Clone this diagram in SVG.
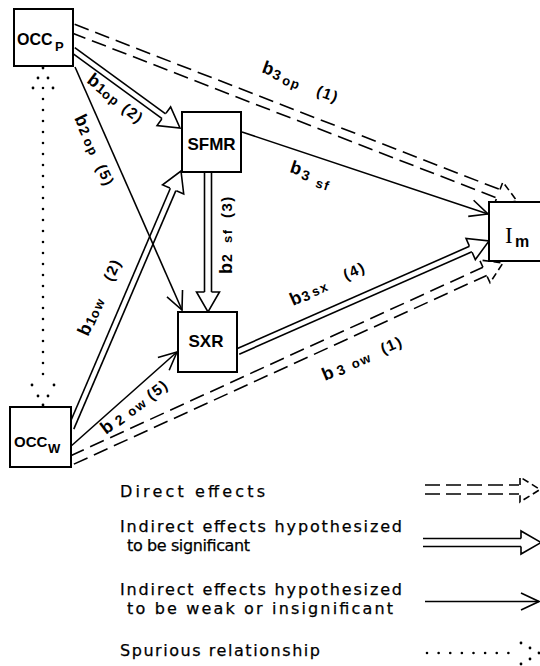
<svg xmlns="http://www.w3.org/2000/svg" width="540" height="666" viewBox="0 0 540 666">
  <style>
    .box{fill:#fff;stroke:#000;stroke-width:2}
    .bt{font-family:"Liberation Sans",Arial,sans-serif;font-weight:bold;fill:#000}
    .ln{fill:none;stroke:#000;stroke-width:1.6}
    .dash{stroke-dasharray:15 7}
    .hdash{stroke-dasharray:7 4}
    .dots{fill:none;stroke:#000;stroke-width:2.6;stroke-linecap:round}
    .lb{font-family:"Liberation Sans",Arial,sans-serif;font-weight:bold;font-size:18px;letter-spacing:1.5px;fill:#000}
    .sn{font-size:14px}
    .sb{font-size:13px}
    .pr{font-size:15px}
    .lg{font-family:"DejaVu Sans",Verdana,sans-serif;font-size:16px;fill:#000;stroke:#000;stroke-width:0.25}
  </style>
  <defs>
    <!-- hollow heads for double-line arrows -->
    <path id="hSig" d="M-20,-3.5 V-11.5 L0,0 L-20,11.5 V3.5"/>
    <path id="hDir" d="M-20,-4.5 V-12.5 L0,0 L-20,12.5 V4.5"/>
    <marker id="mWeak" markerUnits="userSpaceOnUse" markerWidth="24" markerHeight="24" viewBox="-22 -12 24 24" refX="0" refY="0" orient="auto" overflow="visible">
      <path d="M-18,-8.5 L0,0 L-18,8.5" fill="none" stroke="#000" stroke-width="1.6"/>
    </marker>
  </defs>

  <g id="connectors">
    <!-- direct effects: dashed double lines -->
    <g class="ln dash" transform="translate(517,201) rotate(21.23)">
      <line x1="-476.3" y1="-4.5" x2="-20" y2="-4.5"/>
      <line x1="-476.3" y1="4.5" x2="-20" y2="4.5"/>
      <use href="#hDir" class="hdash"/>
    </g>
    <g class="ln dash" transform="translate(503,263) rotate(-24.57)">
      <line x1="-473.9" y1="-4.5" x2="-20" y2="-4.5"/>
      <line x1="-473.9" y1="4.5" x2="-20" y2="4.5"/>
      <use href="#hDir" class="hdash"/>
    </g>
    <!-- significant indirect effects: double solid lines -->
    <g class="ln" transform="translate(180,128) rotate(36.09)">
      <line x1="-132.4" y1="-3" x2="-20" y2="-3"/>
      <line x1="-132.4" y1="3" x2="-20" y2="3"/>
      <use href="#hSig"/>
    </g>
    <g class="ln" transform="translate(181,171) rotate(-66.83)">
      <line x1="-279.5" y1="-3" x2="-20" y2="-3"/>
      <line x1="-279.5" y1="3" x2="-20" y2="3"/>
      <use href="#hSig"/>
    </g>
    <g class="ln" transform="translate(208,312) rotate(90)">
      <line x1="-140" y1="-3.5" x2="-20" y2="-3.5"/>
      <line x1="-140" y1="3.5" x2="-20" y2="3.5"/>
      <use href="#hSig"/>
    </g>
    <g class="ln" transform="translate(489,241) rotate(-23.76)">
      <line x1="-274.2" y1="-3" x2="-20" y2="-3"/>
      <line x1="-274.2" y1="3" x2="-20" y2="3"/>
      <use href="#hSig"/>
    </g>
    <!-- weak indirect effects: single lines -->
    <line class="ln" x1="75" y1="67" x2="182" y2="310" marker-end="url(#mWeak)"/>
    <line class="ln" x1="242" y1="132" x2="488" y2="214" marker-end="url(#mWeak)"/>
    <line class="ln" x1="70" y1="447" x2="177" y2="352" marker-end="url(#mWeak)"/>
    <!-- spurious relationship: dotted, both ends -->
    <g fill="#000">
      <line class="dots" x1="43" y1="88" x2="43" y2="385" stroke-dasharray="0 11"/>
      <circle cx="43" cy="68" r="1.4"/>
      <circle cx="38" cy="78" r="1.4"/><circle cx="48" cy="78" r="1.4"/>
      <circle cx="33" cy="88" r="1.4"/><circle cx="53" cy="88" r="1.4"/>
      <circle cx="43" cy="405" r="1.4"/>
      <circle cx="38" cy="396" r="1.4"/><circle cx="48" cy="396" r="1.4"/>
      <circle cx="32" cy="385" r="1.4"/><circle cx="54" cy="385" r="1.4"/>
    </g>
  </g>

  <g id="edge-labels" class="lb">
    <text transform="translate(261,72) rotate(20)"><tspan x="0" y="0">b</tspan><tspan class="sn" x="12" y="2">3</tspan><tspan class="sb" x="23" y="4">op</tspan><tspan class="pr" x="59" y="3">(1)</tspan></text>
    <text transform="translate(86,82) rotate(37)"><tspan x="0" y="0">b</tspan><tspan class="sn" x="12" y="1">1</tspan><tspan class="sb" x="20" y="2">op</tspan><tspan class="pr" x="45" y="2">(2)</tspan></text>
    <text transform="translate(74,118) rotate(64)"><tspan x="0" y="0">b</tspan><tspan class="sn" x="12" y="1">2</tspan><tspan class="sb" x="24" y="2">op</tspan><tspan class="pr" x="54" y="2">(5)</tspan></text>
    <text transform="translate(289,172) rotate(18)"><tspan x="0" y="0">b</tspan><tspan class="sn" x="13" y="3">3</tspan><tspan class="sb" x="29" y="6">sf</tspan></text>
    <text transform="translate(232,274) rotate(-90)"><tspan x="0" y="0">b</tspan><tspan class="sn" x="12" y="0">2</tspan><tspan class="sb" x="31" y="0">sf</tspan><tspan class="pr" x="56" y="0">(3)</tspan></text>
    <text transform="translate(88,337) rotate(-66)"><tspan x="0" y="0">b</tspan><tspan class="sn" x="12" y="1">1</tspan><tspan class="sb" x="20" y="1">ow</tspan><tspan class="pr" x="60" y="0">(2)</tspan></text>
    <text transform="translate(106,435) rotate(-37)"><tspan x="0" y="0">b</tspan><tspan class="sn" x="16" y="1">2</tspan><tspan class="sb" x="31" y="1">ow</tspan><tspan class="pr" x="57" y="0">(5)</tspan></text>
    <text transform="translate(293,306) rotate(-24)"><tspan x="0" y="0">b</tspan><tspan class="sn" x="12" y="1">3</tspan><tspan class="sb" x="23" y="0">sx</tspan><tspan class="pr" x="59" y="-2">(4)</tspan></text>
    <text transform="translate(325,381) rotate(-23)"><tspan x="0" y="0">b</tspan><tspan class="sn" x="15" y="1">3</tspan><tspan class="sb" x="31" y="0">ow</tspan><tspan class="pr" x="64" y="-2">(1)</tspan></text>
  </g>

  <g id="OCCp">
    <rect class="box" x="14" y="9" width="59" height="57"/>
    <text class="bt" x="17" y="45" font-size="16">OCC</text>
    <text class="bt" x="55" y="51" font-size="13">P</text>
  </g>
  <g id="SFMR">
    <rect class="box" x="182" y="112" width="59" height="60"/>
    <text class="bt" x="211.5" y="150" font-size="17" text-anchor="middle">SFMR</text>
  </g>
  <g id="SXR">
    <rect class="box" x="178" y="312" width="59" height="60"/>
    <text class="bt" x="206" y="347" font-size="17" text-anchor="middle">SXR</text>
  </g>
  <g id="OCCw">
    <rect class="box" x="10" y="407" width="61" height="60"/>
    <text class="bt" x="14" y="447" font-size="15">OCC</text>
    <text class="bt" x="48" y="453" font-size="13">W</text>
  </g>
  <g id="Im">
    <rect class="box" x="489" y="202" width="60" height="59"/>
    <text x="505" y="243" font-family="'Liberation Serif',serif" font-size="23">I</text>
    <text class="bt" x="515" y="247" font-size="16">m</text>
  </g>

  <g id="legend">
    <text class="lg" x="120" y="497" textLength="145" lengthAdjust="spacing">Direct effects</text>
    <g class="ln dash" style="stroke-dasharray:15 6">
      <line x1="425" y1="485" x2="519" y2="485"/>
      <line x1="425" y1="494" x2="519" y2="494"/>
    </g>
    <use href="#hDir" class="ln hdash" transform="translate(540,489.5)"/>

    <text class="lg" x="120" y="532" textLength="282" lengthAdjust="spacing">Indirect effects hypothesized</text>
    <text class="lg" x="127" y="551" textLength="123" lengthAdjust="spacing">to be significant</text>
    <g class="ln">
      <line x1="423" y1="538.5" x2="521" y2="538.5"/>
      <line x1="423" y1="546.5" x2="521" y2="546.5"/>
      <path d="M521,538.5 V531 L541,542.5 L521,554 V546.5"/>
    </g>

    <text class="lg" x="120" y="595" textLength="282" lengthAdjust="spacing">Indirect effects hypothesized</text>
    <text class="lg" x="127" y="614" textLength="266" lengthAdjust="spacing">to be weak or insignificant</text>
    <line class="ln" x1="425" y1="601.5" x2="539" y2="601.5" marker-end="url(#mWeak)"/>

    <text class="lg" x="120" y="656" textLength="200" lengthAdjust="spacing">Spurious relationship</text>
    <g fill="#000">
      <line class="dots" x1="427" y1="653" x2="520" y2="653" stroke-dasharray="0 11.625"/>
      <circle cx="539" cy="653" r="1.4"/>
      <circle cx="530" cy="648" r="1.4"/><circle cx="530" cy="659" r="1.4"/>
      <circle cx="521" cy="643" r="1.4"/><circle cx="521" cy="664" r="1.4"/>
    </g>
  </g>
</svg>
